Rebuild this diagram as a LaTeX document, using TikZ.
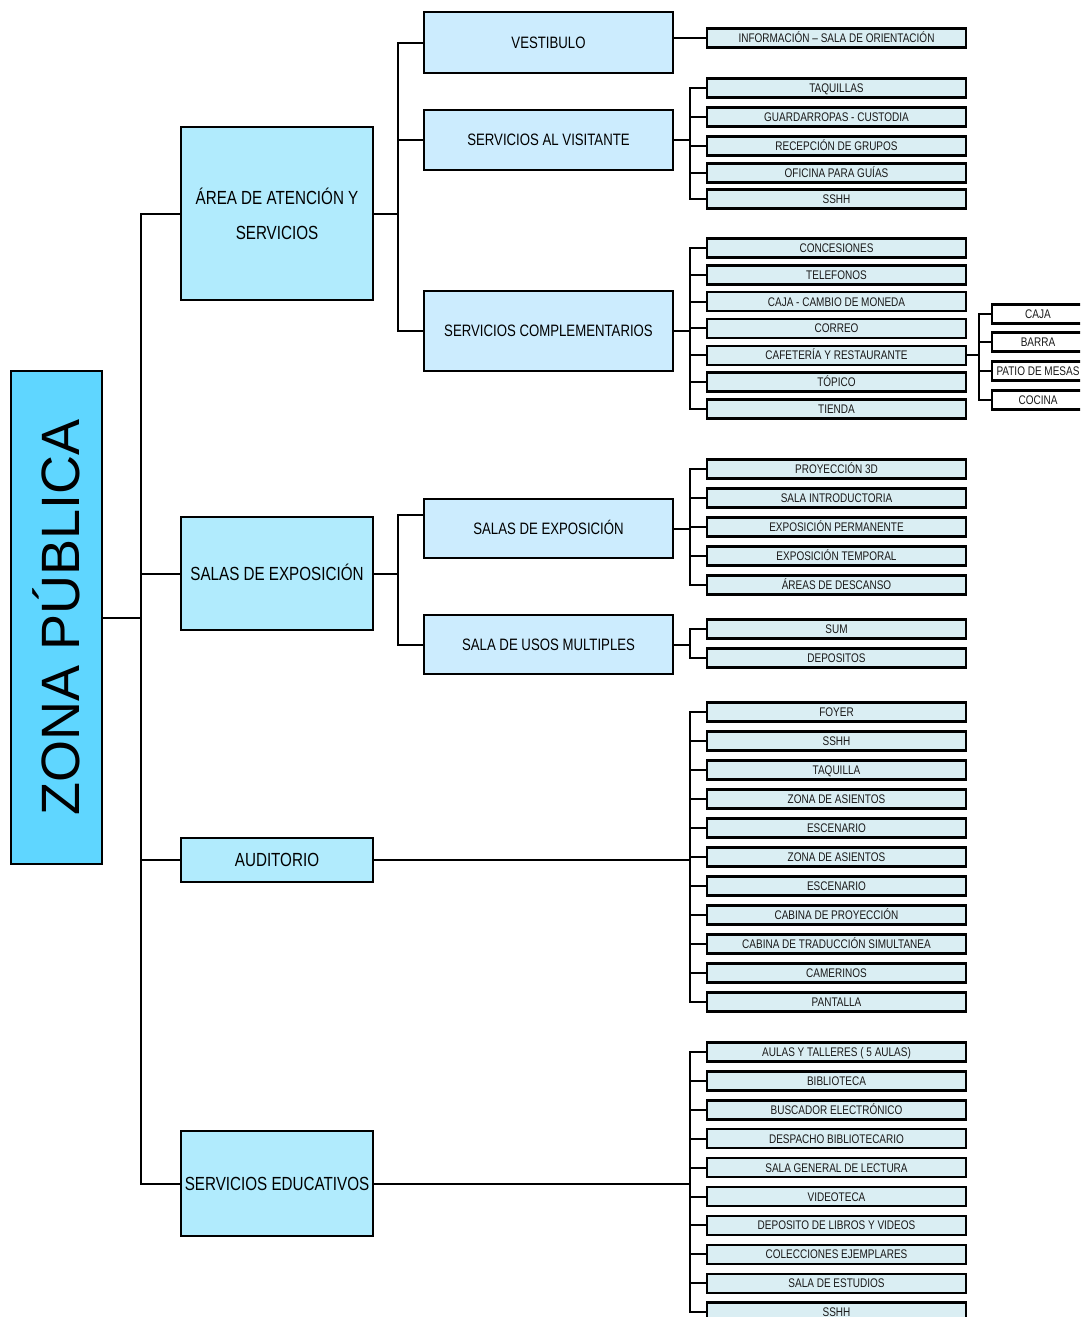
\documentclass[tikz,border=0pt]{standalone}
\usepackage{fontspec}
\setmainfont{Liberation Sans}
\newfontfamily\narrowsf[FakeStretch=0.8]{Liberation Sans}

\definecolor{zonafill}{RGB}{95,214,255}
\definecolor{areafill}{RGB}{177,235,253}
\definecolor{roomfill}{RGB}{204,236,254}
\definecolor{itemfill}{RGB}{218,238,243}

\begin{document}
\begin{tikzpicture}[x=1pt, y=-1pt,
    box/.style={draw=black, line width=2pt, inner sep=0pt, align=center},
    zonebox/.style={box, fill=zonafill, minimum width=493pt, minimum height=91pt, rotate=90, font=\fontsize{54}{60}\selectfont},
    areabox/.style={box, fill=areafill, minimum width=192pt, font=\narrowsf\fontsize{19}{35}\selectfont},
    roombox/.style={box, fill=roomfill, minimum width=249pt, font=\narrowsf\fontsize{16.5}{20}\selectfont, text height=11.8pt, text depth=0pt},
    itembox/.style={box, line width=2.4pt, fill=itemfill, minimum width=259pt, minimum height=19pt, font=\narrowsf\fontsize{12.5}{14}\selectfont, text=black!90, text height=9pt, text depth=0pt},
    subbox/.style={itembox, fill=white, minimum width=92pt},
    link/.style={line width=2pt}]

    % --- Frame ---
    \useasboundingbox (0,0) rectangle (1080,1317);
    \clip (0,0) rectangle (1080,1317);

    % --- Bus lines ---
    \coordinate (trunk) at (141,0);
    \coordinate (busA) at (398,0);
    \coordinate (busB) at (690,0);
    \coordinate (busC) at (979,0);
    \def\itemx{836.5}

    % 1. Main box
    \node[zonebox] (zona) at (56.5,617.5) {ZONA PÚBLICA};

    % 2. Areas
    \node[areabox, minimum height=173pt] (area) at (277,213.5) {ÁREA DE ATENCIÓN Y\\SERVICIOS};
    \node[areabox, minimum height=113pt, text height=13.6pt, text depth=0pt] (salas) at (277,573.5) {SALAS DE EXPOSICIÓN};
    \node[areabox, minimum height=44pt, text height=13.6pt, text depth=0pt] (audit) at (277,859.5) {AUDITORIO};
    \node[areabox, minimum height=105pt, text height=13.6pt, text depth=0pt] (educ) at (277,1183.5) {SERVICIOS EDUCATIVOS};

    \foreach \n in {area, salas, audit, educ}
        \draw[link] (zona.south) -- (zona.south -| trunk) |- (\n.west);

    % 3. Rooms
    \node[roombox, minimum height=61pt] (vest) at (548.5,42.5) {VESTIBULO};
    \node[roombox, minimum height=60pt] (visit) at (548.5,140) {SERVICIOS AL VISITANTE};
    \node[roombox, minimum height=80pt] (compl) at (548.5,331) {SERVICIOS COMPLEMENTARIOS};
    \node[roombox, minimum height=59pt] (expo) at (548.5,528.5) {SALAS DE EXPOSICIÓN};
    \node[roombox, minimum height=59pt] (usos) at (548.5,644.5) {SALA DE USOS MULTIPLES};

    \foreach \n in {vest, visit, compl}
        \draw[link] (area.east) -- (area.east -| busA) |- (\n.west);
    \draw[link] (salas.east) -- (salas.east -| busA) |- ([yshift=13.5pt]expo.west);
    \draw[link] (salas.east) -- (salas.east -| busA) |- (usos.west);

    % 4. Items
    \node[itembox] (info) at (\itemx,38) {INFORMACIÓN – SALA DE ORIENTACIÓN};
    \draw[link] (vest.east |- info.west) -- (info.west);

    \foreach \y/\lbl [count=\i] in {88/TAQUILLAS, 117/GUARDARROPAS - CUSTODIA, 146/RECEPCIÓN DE GRUPOS, 173/OFICINA PARA GUÍAS, 199/SSHH} {
        \node[itembox] (visit-\i) at (\itemx,\y) {\lbl};
        \draw[link] (visit.east) -- (visit.east -| busB) |- (visit-\i.west);
    }

    \foreach \lbl [count=\i from 0] in {CONCESIONES, TELEFONOS, CAJA - CAMBIO DE MONEDA, CORREO, CAFETERÍA Y RESTAURANTE, TÓPICO, TIENDA} {
        \node[itembox] (compl-\i) at (\itemx,{248+26.8*\i}) {\lbl};
        \draw[link] (compl.east) -- (compl.east -| busB) |- (compl-\i.west);
    }

    % cafeteria parts, cut by the right edge
    \foreach \y/\lbl [count=\i] in {314/CAJA, 342/BARRA, 371/PATIO DE MESAS, 400/COCINA} {
        \node[subbox] (cafe-\i) at (1038,\y) {\lbl};
        \draw[link] (compl-4.east) -- (compl-4.east -| busC) |- (cafe-\i.west);
    }

    \foreach \lbl [count=\i from 0] in {PROYECCIÓN 3D, SALA INTRODUCTORIA, EXPOSICIÓN PERMANENTE, EXPOSICIÓN TEMPORAL, ÁREAS DE DESCANSO} {
        \node[itembox] (expo-\i) at (\itemx,{469+29*\i}) {\lbl};
        \draw[link] (expo.east) -- (expo.east -| busB) |- (expo-\i.west);
    }

    \foreach \lbl [count=\i from 0] in {SUM, DEPOSITOS} {
        \node[itembox] (usos-\i) at (\itemx,{629+29*\i}) {\lbl};
        \draw[link] (usos.east) -- (usos.east -| busB) |- (usos-\i.west);
    }

    \foreach \lbl [count=\i from 0] in {FOYER, SSHH, TAQUILLA, ZONA DE ASIENTOS, ESCENARIO, ZONA DE ASIENTOS, ESCENARIO, CABINA DE PROYECCIÓN, CABINA DE TRADUCCIÓN SIMULTANEA, CAMERINOS, PANTALLA} {
        \node[itembox] (audit-\i) at (\itemx,{712+29*\i}) {\lbl};
        \draw[link] (audit.east) -- (audit.east -| busB) |- (audit-\i.west);
    }

    \foreach \lbl [count=\i from 0] in {AULAS Y TALLERES ( 5 AULAS), BIBLIOTECA, BUSCADOR ELECTRÓNICO, DESPACHO BIBLIOTECARIO, SALA GENERAL DE LECTURA, VIDEOTECA, DEPOSITO DE LIBROS Y VIDEOS, COLECCIONES EJEMPLARES, SALA DE ESTUDIOS, SSHH} {
        \node[itembox] (educ-\i) at (\itemx,{1052+28.9*\i}) {\lbl};
        \draw[link] (educ.east) -- (educ.east -| busB) |- (educ-\i.west);
    }

\end{tikzpicture}
\end{document}
